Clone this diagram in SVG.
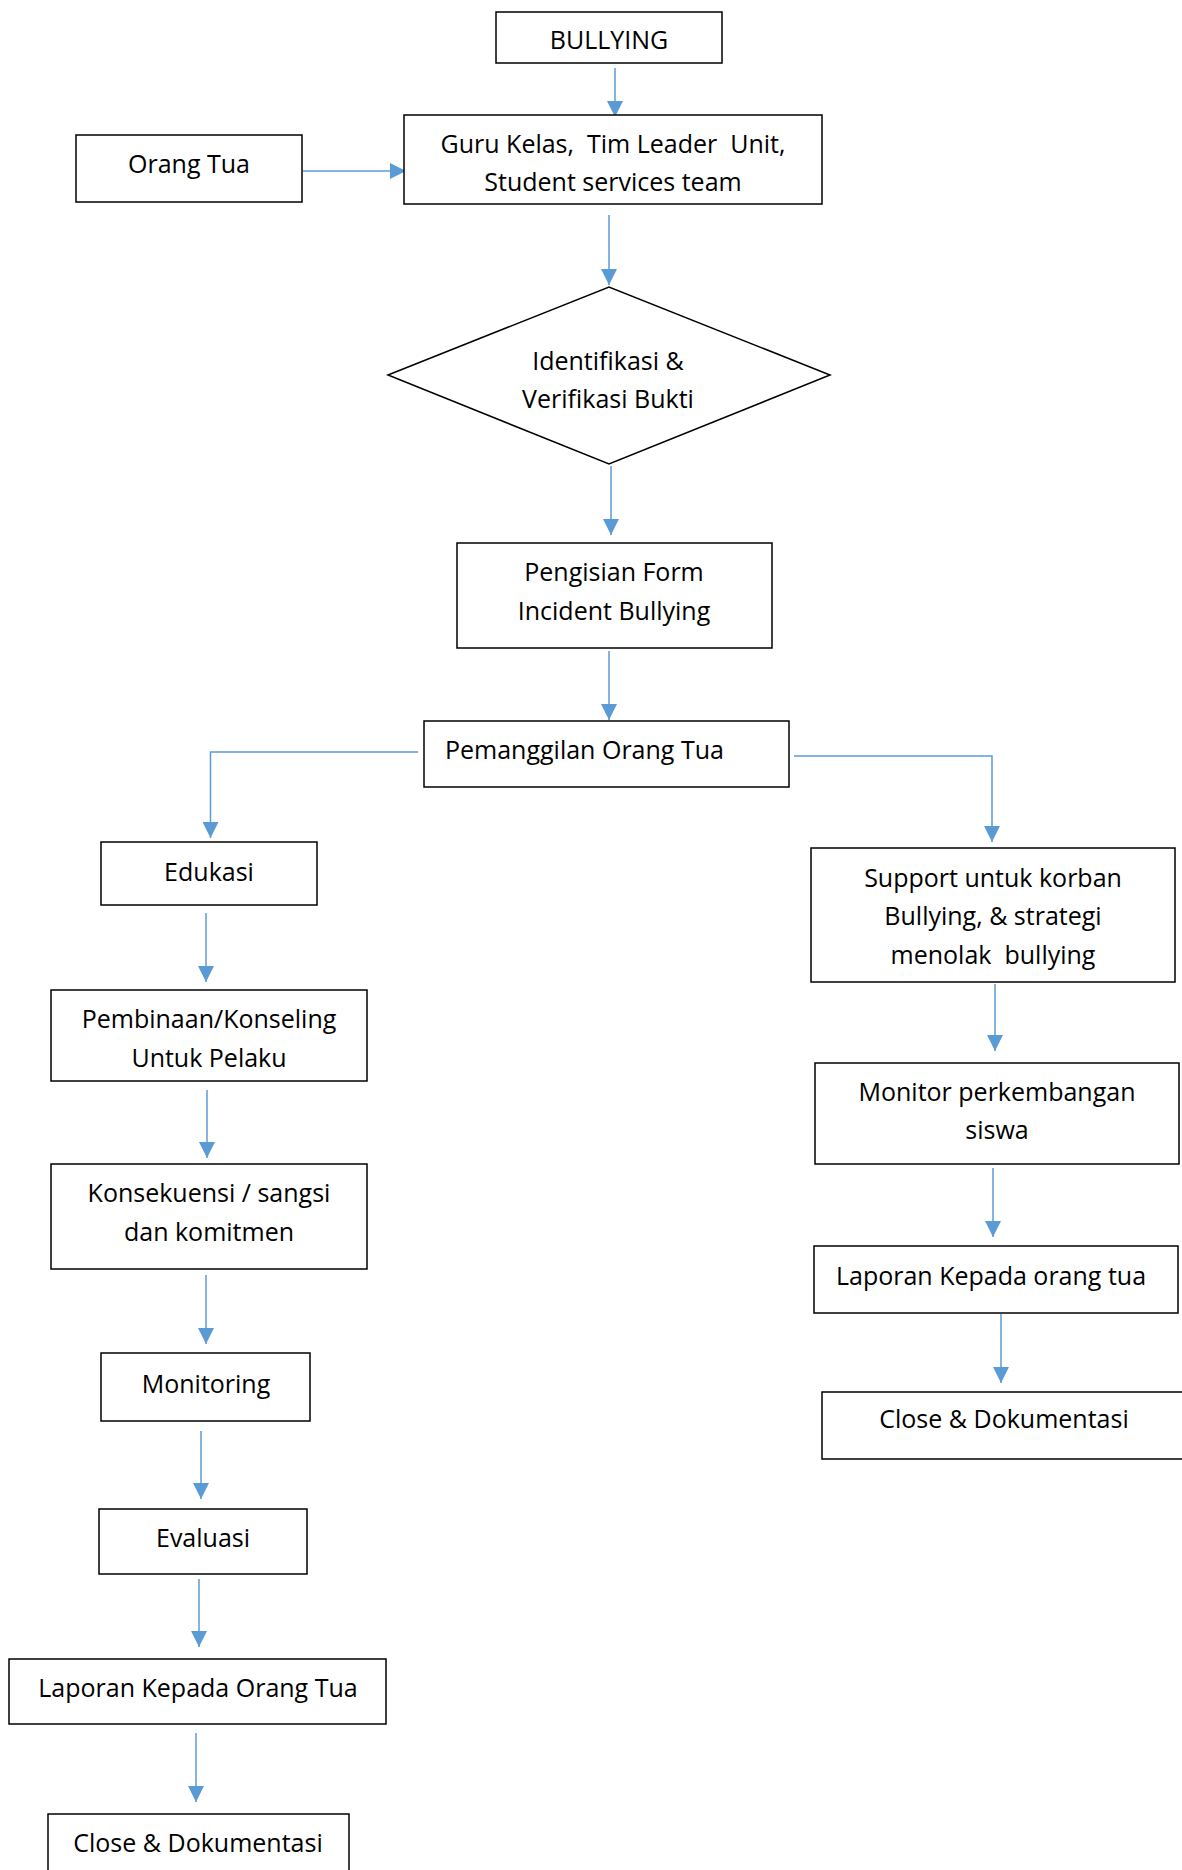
<svg xmlns="http://www.w3.org/2000/svg" width="1182" height="1870" viewBox="0 0 1182 1870">
<style>
.box{fill:#fff;stroke:#000;stroke-width:1.5}
.t{font-family:"Open Sans","Liberation Sans",sans-serif;font-size:25px;fill:#000;text-anchor:middle;white-space:pre}
.ts{text-anchor:start}
.c{fill:none;stroke:#5B9BD5;stroke-width:1.5;marker-end:url(#ah)}
</style>
<defs>
<marker id="ah" markerUnits="userSpaceOnUse" markerWidth="16" markerHeight="16" refX="15" refY="7.5" orient="auto" viewBox="0 0 15 15">
<path d="M0,0 L15,7.5 L0,15 z" fill="#5B9BD5"/>
</marker>
</defs>
<rect width="1182" height="1870" fill="#fff"/>
<g id="connectors">
<path class="c" d="M615,68 L615,117"/>
<path class="c" d="M303,171 L406,171"/>
<path class="c" d="M609,215 L609,285"/>
<path class="c" d="M611,466 L611,535"/>
<path class="c" d="M609,651 L609,720"/>
<path class="c" d="M418,752 L210.5,752 L210.5,838"/>
<path class="c" d="M794,756 L992,756 L992,842"/>
<path class="c" d="M206,913 L206,982"/>
<path class="c" d="M207,1090 L207,1158"/>
<path class="c" d="M206,1275 L206,1344"/>
<path class="c" d="M201,1431 L201,1499"/>
<path class="c" d="M199,1579 L199,1647"/>
<path class="c" d="M196,1733 L196,1802"/>
<path class="c" d="M995,984 L995,1051"/>
<path class="c" d="M993,1168 L993,1237"/>
<path class="c" d="M1001,1314 L1001,1383"/>
</g>
<g id="bullying"><rect class="box" x="496" y="12" width="226" height="51"/><text class="t" x="609" y="49">BULLYING</text></g>
<g id="guru"><rect class="box" x="404" y="115" width="418" height="89"/><text class="t" x="613" y="153" xml:space="preserve">Guru Kelas,  Tim Leader  Unit,</text><text class="t" x="613" y="191">Student services team</text></g>
<g id="orangtua"><rect class="box" x="76" y="135" width="226" height="67"/><text class="t" x="189" y="173">Orang Tua</text></g>
<g id="identifikasi"><polygon class="box" points="388,375 609,287 830,375 609,464"/><text class="t" x="608" y="370">Identifikasi &amp;</text><text class="t" x="608" y="408">Verifikasi Bukti</text></g>
<g id="pengisian"><rect class="box" x="457" y="543" width="315" height="105"/><text class="t" x="614" y="581">Pengisian Form</text><text class="t" x="614" y="620">Incident Bullying</text></g>
<g id="pemanggilan"><rect class="box" x="424" y="721" width="365" height="66"/><text class="t ts" x="445" y="759">Pemanggilan Orang Tua</text></g>
<g id="edukasi"><rect class="box" x="101" y="842" width="216" height="63"/><text class="t" x="209" y="881">Edukasi</text></g>
<g id="pembinaan"><rect class="box" x="51" y="990" width="316" height="91"/><text class="t" x="209" y="1028">Pembinaan/Konseling</text><text class="t" x="209" y="1067">Untuk Pelaku</text></g>
<g id="konsekuensi"><rect class="box" x="51" y="1164" width="316" height="105"/><text class="t" x="209" y="1202">Konsekuensi / sangsi</text><text class="t" x="209" y="1241">dan komitmen</text></g>
<g id="monitoring"><rect class="box" x="101" y="1353" width="209" height="68"/><text class="t" x="206" y="1393">Monitoring</text></g>
<g id="evaluasi"><rect class="box" x="99" y="1509" width="208" height="65"/><text class="t" x="203" y="1547">Evaluasi</text></g>
<g id="laporan-left"><rect class="box" x="9" y="1659" width="377" height="65"/><text class="t" x="198" y="1697">Laporan Kepada Orang Tua</text></g>
<g id="close-left"><rect class="box" x="48" y="1814" width="301" height="70"/><text class="t" x="198" y="1852">Close &amp; Dokumentasi</text></g>
<g id="support"><rect class="box" x="811" y="848" width="364" height="134"/><text class="t" x="993" y="887">Support untuk korban</text><text class="t" x="993" y="925">Bullying, &amp; strategi</text><text class="t" x="993" y="964" xml:space="preserve">menolak  bullying</text></g>
<g id="monitor"><rect class="box" x="815" y="1063" width="364" height="101"/><text class="t" x="997" y="1101">Monitor perkembangan</text><text class="t" x="997" y="1139">siswa</text></g>
<g id="laporan-right"><rect class="box" x="814" y="1246" width="364" height="67"/><text class="t" x="991" y="1285">Laporan Kepada orang tua</text></g>
<g id="close-right"><rect class="box" x="822" y="1392" width="370" height="67"/><text class="t" x="1004" y="1428">Close &amp; Dokumentasi</text></g>
</svg>
